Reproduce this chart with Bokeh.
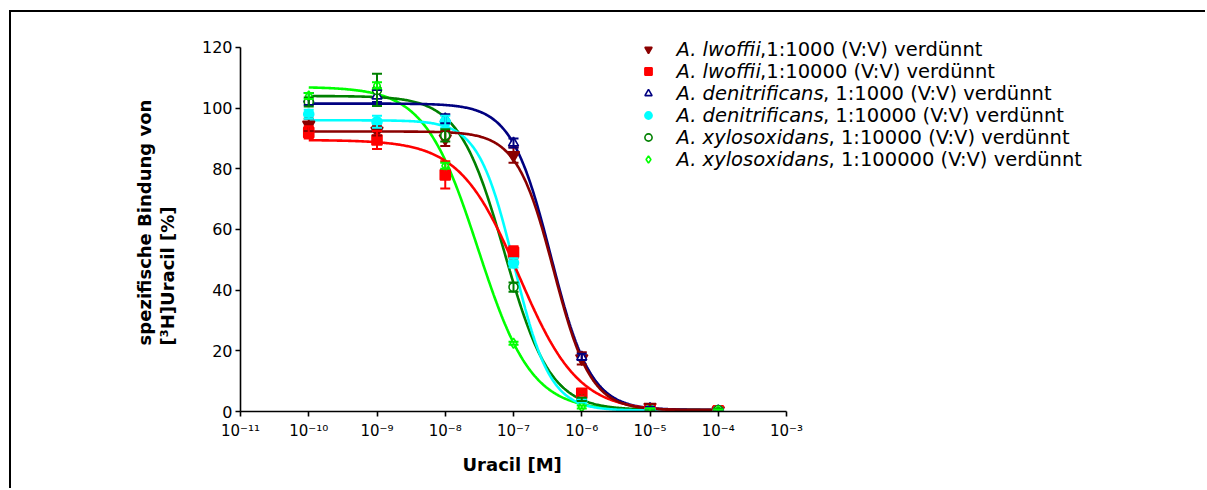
import numpy as np
from bokeh.plotting import figure
from bokeh.models import (Range1d, FixedTicker, CustomJSTickFormatter, Label, Legend,
                          LegendItem, Whisker, TeeHead, ColumnDataSource, Title)
from bokeh.embed import file_html
from bokeh.resources import INLINE

# ---------------- data ----------------
concentrations = [1e-10, 1e-9, 1e-8, 1e-7, 1e-6, 1e-5, 1e-4]

lwoffii_1000 = [94.5, 92.5, 90.0, 84.5, 17.5, 1.5, 0.3]
lwoffii_1000_err = [2.0, 1.5, 2.5, 2.5, 2.0, 1.0, 0.5]
lwoffii_10000 = [92.0, 89.5, 78.0, 52.5, 6.0, 0.5, 0.2]
lwoffii_10000_err = [2.0, 3.0, 4.5, 2.0, 0.8, 0.5, 0.5]
denitrificans_1000 = [103.0, 104.0, 96.5, 88.5, 18.0, 1.0, 0.3]
denitrificans_1000_err = [2.0, 2.0, 1.5, 1.5, 1.0, 0.5, 0.5]
denitrificans_10000 = [98.0, 95.5, 95.5, 49.0, 3.5, 0.5, 0.2]
denitrificans_10000_err = [1.5, 2.0, 2.0, 1.5, 0.5, 0.5, 0.5]
xylosoxidans_10000 = [102.0, 106.0, 91.0, 41.0, 4.0, 0.5, 0.5]
xylosoxidans_10000_err = [1.5, 5.3, 2.0, 1.5, 0.5, 0.5, 0.5]
xylosoxidans_100000 = [104.0, 107.5, 81.0, 22.5, 1.5, 0.5, 0.2]
xylosoxidans_100000_err = [1.0, 1.0, 1.0, 0.5, 0.5, 0.5, 0.5]

# fitted sigmoid (4-parameter logistic) parameters per series
fit_top = [92.3, 89.5, 101.5, 96.0, 104.0, 107.0]
fit_bottom = [0.5, 0.0, 0.5, 0.3, 0.5, 0.3]
fit_logec50 = [-6.41, -6.92, -6.45, -6.99, -7.13, -7.52]
fit_hill = [1.6, 1.0, 1.5, 1.65, 1.3, 1.11]

legend_italic = ["A. lwoffii", "A. lwoffii", "A. denitrificans", "A. denitrificans",
                 "A. xylosoxidans", "A. xylosoxidans"]
legend_rest = [",1:1000 (V:V) verdünnt", ",1:10000 (V:V) verdünnt",
               ", 1:1000 (V:V) verdünnt", ", 1:10000 (V:V) verdünnt",
               ", 1:10000 (V:V) verdünnt", ", 1:100000 (V:V) verdünnt"]

x_ticks = [1e-11, 1e-10, 1e-9, 1e-8, 1e-7, 1e-6, 1e-5, 1e-4, 1e-3]
x_tick_labels = ["10⁻¹¹", "10⁻¹⁰", "10⁻⁹", "10⁻⁸", "10⁻⁷", "10⁻⁶", "10⁻⁵", "10⁻⁴", "10⁻³"]
y_ticks = [0, 20, 40, 60, 80, 100, 120]

x_title = "Uracil [M]"
y_title = "spezifische Bindung von\n[³H]Uracil [%]"

# ---------------- styles ----------------
series_values = [lwoffii_1000, lwoffii_10000, denitrificans_1000, denitrificans_10000,
                 xylosoxidans_10000, xylosoxidans_100000]
series_errors = [lwoffii_1000_err, lwoffii_10000_err, denitrificans_1000_err,
                 denitrificans_10000_err, xylosoxidans_10000_err, xylosoxidans_100000_err]
colors = ["#8B0000", "#FF0000", "#000080", "#00FFFF", "#008000", "#00FF00"]
markers = ["inverted_triangle", "square", "triangle", "circle", "circle", "diamond"]
marker_sizes = [12, 10, 10, 10, 9, 10]
filled = [True, True, False, True, False, False]

FONT = "DejaVu Sans"

# frame spans page x 240..1110, y 33..412 ; axes limited to 1e-11..1e-3 and 0..120
p = figure(width=1196, height=478, x_axis_type="log",
           x_range=Range1d(1e-11, 10 ** 1.908), y_range=Range1d(0, 124.6),
           output_backend="svg", toolbar_location=None,
           min_border_left=229, min_border_right=86, min_border_top=21, min_border_bottom=79)
p.styles = {"margin-left": "11px", "margin-top": "12px",
            "box-shadow": "-2px -2px 0px 0px black"}
p.outline_line_color = None
p.grid.visible = False
p.background_fill_color = "white"
p.border_fill_color = "white"

# axes
for ax in (p.xaxis[0], p.yaxis[0]):
    ax.axis_line_width = 1.6
    ax.axis_line_color = "black"
    ax.major_tick_line_width = 1.6
    ax.major_tick_out = 5
    ax.major_tick_in = 0
    ax.minor_tick_line_color = None
    ax.major_label_text_font = FONT
    ax.major_label_text_color = "black"

p.yaxis.bounds = (0, 120)
p.yaxis.ticker = FixedTicker(ticks=y_ticks)
p.yaxis.major_label_text_font_size = "16px"
p.yaxis.major_label_standoff = 3

p.xaxis.bounds = (1e-11, 1e-3)
p.xaxis.ticker = FixedTicker(ticks=x_ticks, minor_ticks=[])
p.xaxis.formatter = CustomJSTickFormatter(
    args=dict(xt=x_ticks, lbl=x_tick_labels),
    code="""
    for (let i = 0; i < xt.length; i++) {
        if (Math.abs(Math.log10(xt[i]) - Math.log10(tick)) < 1e-6) return lbl[i];
    }
    return "";
    """)
p.xaxis.major_label_text_font_size = "15px"
p.xaxis.major_label_standoff = 5

# fitted curves (drawn back to front so that the first series is on top)
x_fit = np.logspace(-10, -4, 400)
for i in reversed(range(6)):
    y_fit = fit_bottom[i] + (fit_top[i] - fit_bottom[i]) / (
        1 + 10 ** (fit_hill[i] * (np.log10(x_fit) - fit_logec50[i])))
    p.line(x_fit, y_fit, line_color=colors[i], line_width=2.6)

# error bars and points
scatter_renderers = []
for i in range(6):
    vals = np.array(series_values[i])
    errs = np.array(series_errors[i])
    src = ColumnDataSource(dict(x=concentrations, y=vals, upper=vals + errs, lower=vals - errs))
    w = Whisker(base="x", upper="upper", lower="lower", source=src, dimension="height",
                line_color=colors[i], line_width=2,
                upper_head=TeeHead(size=10, line_color=colors[i], line_width=2),
                lower_head=TeeHead(size=10, line_color=colors[i], line_width=2),
                level="glyph")
    p.add_layout(w)

for i in range(6):
    src = ColumnDataSource(dict(x=concentrations, y=series_values[i]))
    r = p.scatter("x", "y", source=src, marker=markers[i], size=marker_sizes[i],
                  line_color=colors[i], line_width=1.6,
                  fill_color=colors[i] if filled[i] else "white")
    scatter_renderers.append(r)

# legend (markers) + rich text labels
legend = Legend(items=[LegendItem(label=" ", renderers=[r]) for r in scatter_renderers],
                location=(399, 242), padding=0, margin=0, spacing=2,
                glyph_width=18, glyph_height=20, label_height=20, label_width=0,
                label_standoff=0, border_line_color=None, background_fill_alpha=0,
                label_text_font_size="1px")
p.add_layout(legend)

italic_widths_em = {"A. lwoffii": 4.287, "A. denitrificans": 7.510, "A. xylosoxidans": 7.798}
LEG_FS = 19.5
for i in range(6):
    yy = 362 - 22 * i
    p.add_layout(Label(x=436, y=yy, x_units="screen", y_units="screen", text=legend_italic[i],
                       text_font=FONT, text_font_size=f"{LEG_FS}px", text_font_style="italic",
                       text_baseline="middle", text_align="left", text_color="black"))
    p.add_layout(Label(x=436 + italic_widths_em[legend_italic[i]] * LEG_FS, y=yy,
                       x_units="screen", y_units="screen", text=legend_rest[i],
                       text_font=FONT, text_font_size=f"{LEG_FS}px",
                       text_baseline="middle", text_align="left", text_color="black"))

# axis titles (as side-panel titles so they are not clipped)
p.add_layout(Title(text=x_title, align="left", offset=222, text_font=FONT,
                   text_font_size="18px", text_font_style="bold", text_color="black",
                   standoff=18), "below")
p.add_layout(Title(text=y_title, align="center", text_font=FONT,
                   text_font_size="18px", text_font_style="bold", text_color="black",
                   text_line_height=1.1, standoff=40), "left")

open("out.html", "w").write(file_html(p, INLINE))
